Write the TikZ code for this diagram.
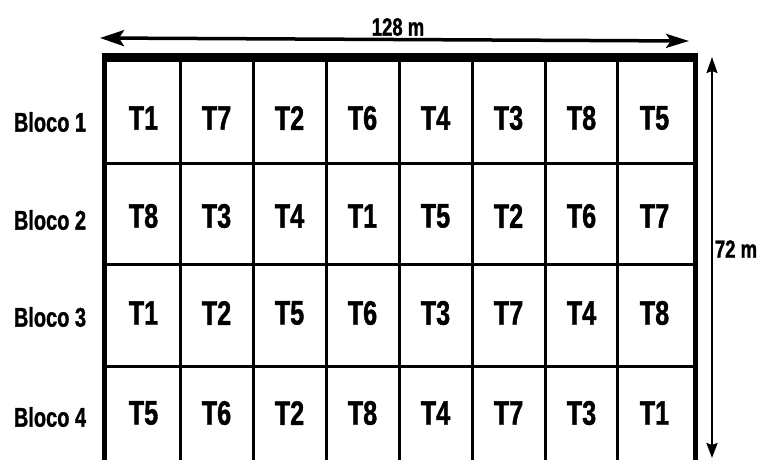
\documentclass[tikz,border=0pt]{standalone}
\usepackage{fontspec}
\newfontfamily\narrowsans{Liberation Sans}[FakeStretch=0.74, BoldFeatures={FakeBold=1.2}]
\usetikzlibrary{positioning, arrows.meta}

\tikzset{
  treat/.style={font=\narrowsans\bfseries\fontsize{34}{34}\selectfont, inner sep=0pt},
  bloco/.style={font=\narrowsans\bfseries\fontsize{27}{27}\selectfont, inner sep=0pt},
  dimlabel/.style={font=\narrowsans\bfseries\fontsize{25}{25}\selectfont, inner sep=0pt},
  gridline/.style={line width=3pt},
  frameline/.style={line width=5pt},
}

\begin{document}
\begin{tikzpicture}[x=1pt, y=-1pt]
  \useasboundingbox (0,0) rectangle (760,459);

  % inner grid
  \foreach \yy in {163,264,366}
    \draw[gridline] (104,\yy) -- (695,\yy);
  \foreach \xx in {180,253,326,399,472,545,617}
    \draw[gridline] (\xx,57) -- (\xx,470);

  % outer frame (thick top)
  \draw[frameline] (104,470) -- (104,57) -- (695,57) -- (695,470);
  \draw[line width=9pt] (101.5,57.5) -- (697.5,57.5);

  % treatments per block
  \foreach \r/\yy/\list in {1/118/{T1,T7,T2,T6,T4,T3,T8,T5},
                            2/216/{T8,T3,T4,T1,T5,T2,T6,T7},
                            3/313/{T1,T2,T5,T6,T3,T7,T4,T8},
                            4/413/{T5,T6,T2,T8,T4,T7,T3,T1}} {
    \node[bloco] (bloco\r) at (50,\yy+4) {Bloco \r};
    \foreach \t [count=\c] in \list
      \node[treat] (cell-\r-\c) at ({143.5+73*(\c-1)},\yy) {\t};
  }

  % dimensions
  \coordinate (wl) at (100,38);
  \coordinate (wr) at (689,41);
  \draw[{Stealth[length=24pt,width=16pt,inset=5pt]}-{Stealth[length=23pt,width=14pt,inset=5pt]}, line width=3.5pt] (wl) -- (wr);
  \node[dimlabel] (width) at (398,27) {128 m};

  \coordinate (ht) at (712,57);
  \coordinate (hb) at (712,458);
  \draw[{Stealth[length=16pt,width=11pt,inset=2pt]}-{Stealth[length=15pt,width=11pt,inset=2pt]}, line width=2pt] (ht) -- (hb);
  \node[dimlabel] (height) at (736,249) {72 m};
\end{tikzpicture}
\end{document}
